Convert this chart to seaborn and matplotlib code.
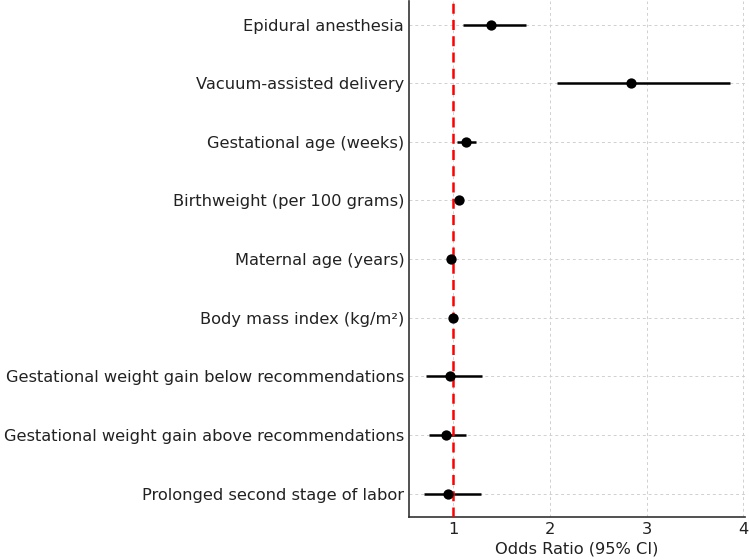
import matplotlib
matplotlib.use("Agg")
import matplotlib.pyplot as plt
import seaborn as sns
import numpy as np
import pandas as pd

categories = [
    "Epidural anesthesia",
    "Vacuum-assisted delivery",
    "Gestational age (weeks)",
    "Birthweight (per 100 grams)",
    "Maternal age (years)",
    "Body mass index (kg/m²)",
    "Gestational weight gain below recommendations",
    "Gestational weight gain above recommendations",
    "Prolonged second stage of labor",
]
odds_ratio = [1.39, 2.84, 1.13, 1.06, 0.98, 1.00, 0.97, 0.92, 0.95]
ci_lower = [1.10, 2.07, 1.04, 1.04, 0.97, 0.99, 0.72, 0.75, 0.70]
ci_upper = [1.75, 3.86, 1.23, 1.08, 0.99, 1.01, 1.30, 1.13, 1.29]

sns.set_style("white")
plt.rcParams['font.family'] = ['DejaVu Sans']

df = pd.DataFrame({
    "label": categories,
    "or": odds_ratio,
    "lo": ci_lower,
    "hi": ci_upper,
})
df["pos"] = np.arange(len(df))[::-1]

fig = plt.figure(figsize=(7.49, 5.60), dpi=100)
ax = fig.add_axes([409/749, 1 - 517/560, (745-409)/749, 1 - 25/560 + 25/560 - (1 - 517/560) - 0.0])
ax.set_position([409/749, 1 - 517/560, (745-409)/749, 517/560 - 0.002])

ax.hlines(df["pos"], df["lo"], df["hi"], color="black", linewidth=1.8, zorder=3)
ax.axvline(1, color="red", linestyle=(0, (4, 2.5)), linewidth=1.8, zorder=3.5)
sns.scatterplot(data=df, x="or", y="pos", color="black", s=55, edgecolor="black",
                linewidth=0, ax=ax, zorder=4)

fs = 11.7
ax.set_yticks(df["pos"])
ax.set_yticklabels(df["label"], fontsize=fs, color="#222222")
ax.set_xticks([1, 2, 3, 4])
ax.tick_params(axis="x", labelsize=fs, colors="#222222", direction="in", length=4)
ax.tick_params(axis="y", direction="in", length=4)
ax.set_xlabel("Odds Ratio (95% CI)", fontsize=fs, color="#222222", labelpad=3)
ax.set_ylabel("")
ax.grid(True, linestyle=(0, (3, 3)), color="#d0d0d0", linewidth=0.7)
ax.set_axisbelow(True)
for side in ["top", "right"]:
    ax.spines[side].set_visible(False)
for side in ["left", "bottom"]:
    ax.spines[side].set_color("#333333")
    ax.spines[side].set_linewidth(1.2)

fig.savefig("out.png", dpi=100)
